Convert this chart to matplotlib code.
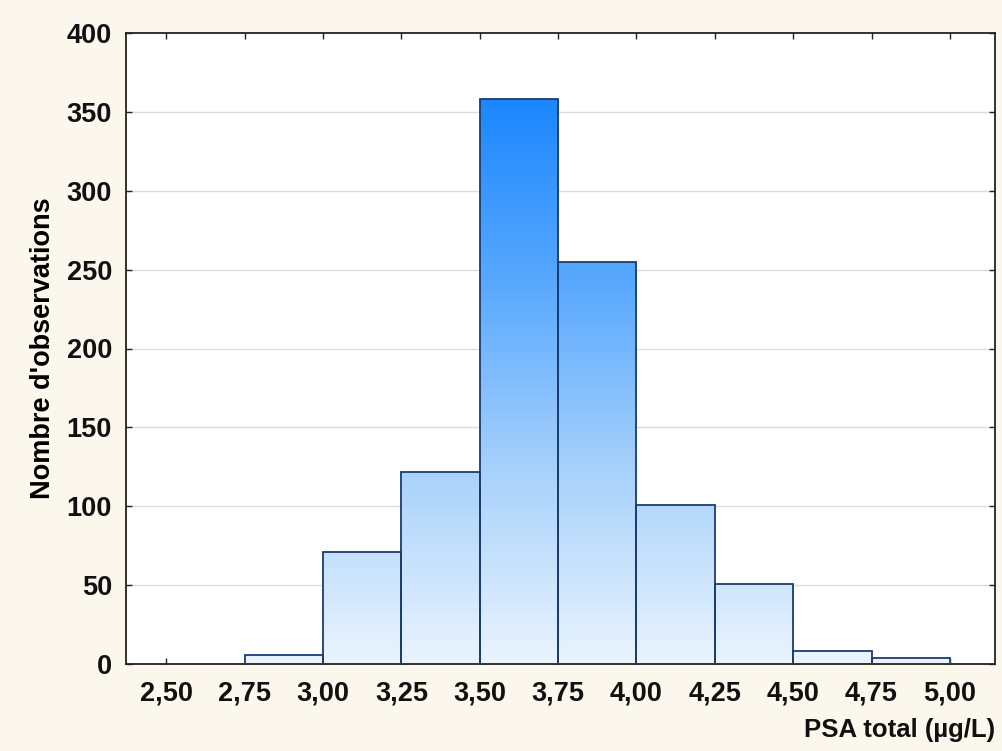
import numpy as np
import matplotlib.pyplot as plt
from matplotlib.colors import LinearSegmentedColormap

# histogram bins (PSA total, µg/L) and counts
bin_edges = [2.50, 2.75, 3.00, 3.25, 3.50, 3.75, 4.00, 4.25, 4.50, 4.75, 5.00]
counts = [0, 6, 71, 122, 358, 255, 101, 51, 8, 4]
xtick_vals = [2.50, 2.75, 3.00, 3.25, 3.50, 3.75, 4.00, 4.25, 4.50, 4.75, 5.00]
xtick_labels = ["2,50", "2,75", "3,00", "3,25", "3,50", "3,75", "4,00", "4,25", "4,50", "4,75", "5,00"]
ytick_vals = [0, 50, 100, 150, 200, 250, 300, 350, 400]

plt.rcParams['font.family'] = ['Liberation Sans', 'DejaVu Sans']
plt.rcParams['font.weight'] = 'bold'

fig = plt.figure(figsize=(10.02, 7.51), dpi=100)
fig.patch.set_facecolor('#fbf7ec')
ax = fig.add_axes([126 / 1002, 1 - 664 / 751, (995 - 126) / 1002, (664 - 33) / 751])
ax.set_facecolor('white')

ax.set_xlim(2.371, 5.144)
ax.set_ylim(0, 400)

for y in ytick_vals[1:-1]:
    ax.axhline(y, color='#dcdcdc', lw=1.0, zorder=0)

cmap = LinearSegmentedColormap.from_list('blu', ['#eaf4fe', '#a9d2fb', '#5aa9ff', '#1a86fd'])
grad = np.linspace(0, 1, 256).reshape(-1, 1)

for i, c in enumerate(counts):
    if c <= 0:
        continue
    x0, x1 = bin_edges[i], bin_edges[i + 1]
    rect = plt.Rectangle((x0, 0), x1 - x0, c, facecolor='none',
                         edgecolor='#1b3d6e', lw=1.3, zorder=3)
    ax.add_patch(rect)
    im = ax.imshow(grad, cmap=cmap, origin='lower', aspect='auto',
                   extent=(x0, x1, 0, 360), vmin=0, vmax=1, zorder=2)
    im.set_clip_path(rect)

ax.set_xticks(xtick_vals)
ax.set_xticklabels(xtick_labels)
ax.set_yticks(ytick_vals)
ax.tick_params(direction='in', length=4, width=1, top=True, right=True,
               labelsize=19.5, colors='#222222')
ax.tick_params(axis='x', labelcolor='#111111', pad=12)
ax.tick_params(axis='y', labelcolor='#111111', pad=10)
for lab in ax.get_xticklabels() + ax.get_yticklabels():
    lab.set_fontweight('bold')

for s in ax.spines.values():
    s.set_linewidth(1.3)
    s.set_color('#222222')

ax.set_ylabel("Nombre d'observations", fontsize=19.5, fontweight='bold', labelpad=8)
fig.text(995 / 1002, 1 - 737 / 751, "PSA total (µg/L)", fontsize=18.5,
         fontweight='bold', ha='right', va='baseline', color='#111111')

fig.savefig('out.png', dpi=100, facecolor=fig.get_facecolor())
